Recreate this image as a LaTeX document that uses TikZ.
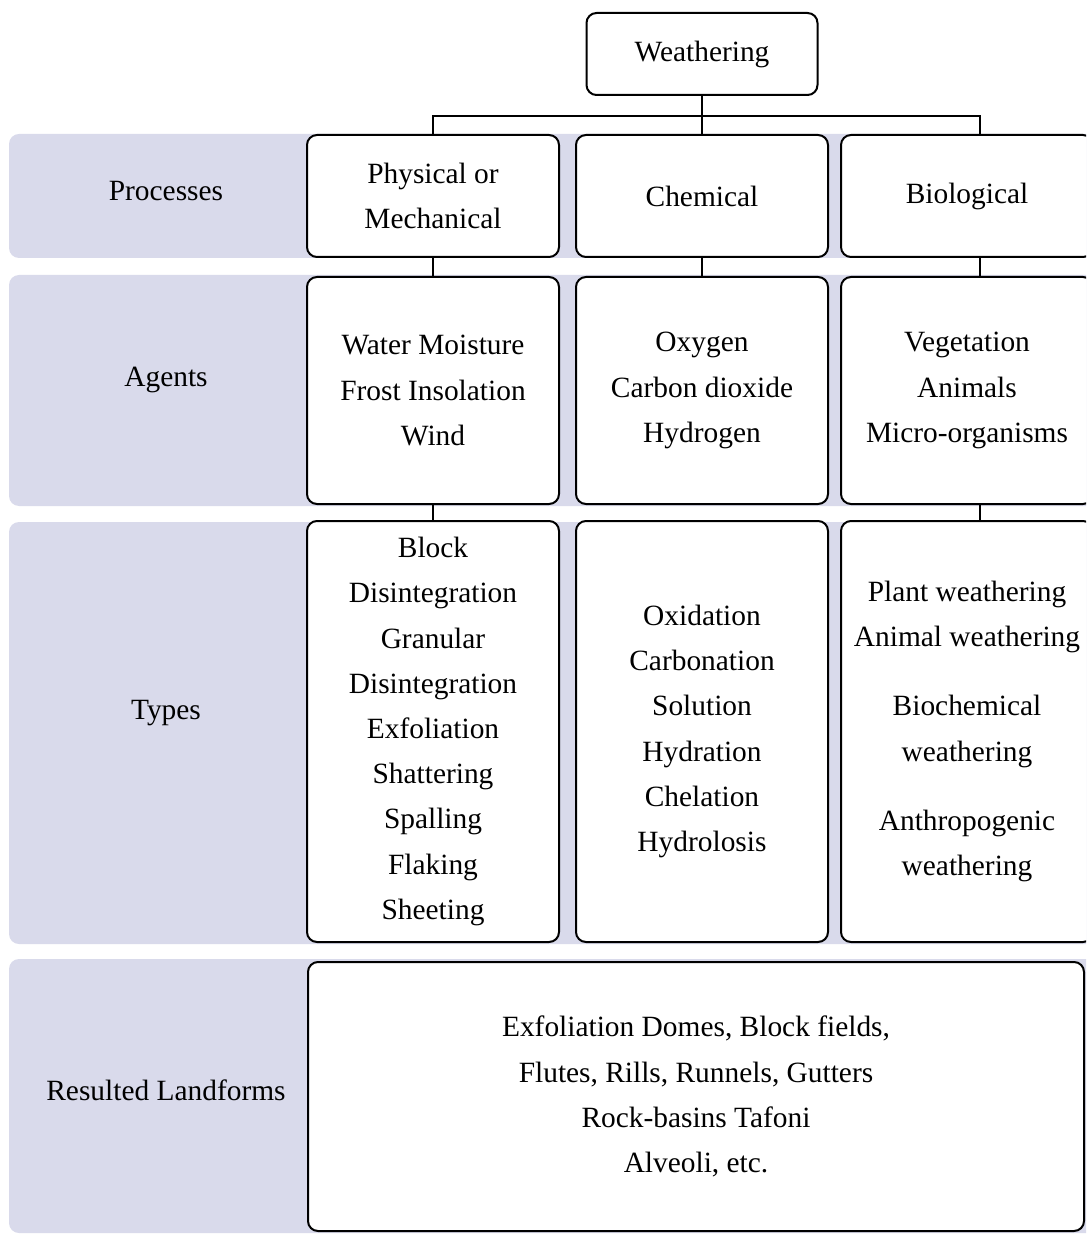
\documentclass[tikz,border=0pt]{standalone}
\usepackage{fontspec}
\setmainfont{Liberation Serif}
\definecolor{bandcol}{RGB}{217,218,235}
\tikzset{
  cellbox/.style={draw, line width=1pt, rounded corners=5pt, fill=white,
    align=center, inner sep=2pt, font=\fontsize{14.7}{22.6}\selectfont},
  rowlabel/.style={align=center, font=\fontsize{14.7}{22.6}\selectfont},
  bandfill/.style={fill=bandcol, rounded corners=5pt},
  link/.style={line width=0.8pt},
}
\begin{document}
\begin{tikzpicture}[x=0.5pt,y=-0.5pt]
    \clip (0,0) rectangle (1086,1234);
    % row backgrounds
    \fill[bandfill] (9,134) rectangle (1120,258);
    \fill[bandfill] (9,275) rectangle (1120,506);
    \fill[bandfill] (9,522) rectangle (1120,944);
    \fill[bandfill] (9,959) rectangle (1120,1233);
    % row labels
    \node[rowlabel] (lproc) at (166,191) {Processes};
    \node[rowlabel] (lagent) at (166,380) {Agents};
    \node[rowlabel] (ltype) at (166,713) {Types};
    \node[rowlabel] (lland) at (166,1090) {Resulted Landforms};
    % root
    \node[cellbox, minimum width=115.5pt, minimum height=41pt] (top) at (702,54) {Weathering};
    % processes
    \node[cellbox, minimum width=126pt, minimum height=61pt] (p1) at (433,196) {Physical or\\Mechanical};
    \node[cellbox, minimum width=126pt, minimum height=61pt] (p2) at (702,196) {Chemical};
    \node[cellbox, minimum width=126pt, minimum height=61pt] (p3) at (967,196) {Biological};
    % agents
    \node[cellbox, minimum width=126pt, minimum height=113.5pt] (a1) at (433,390.5)
        {Water Moisture\\Frost Insolation\\Wind};
    \node[cellbox, minimum width=126pt, minimum height=113.5pt] (a2) at (702,390.5)
        {Oxygen\\Carbon dioxide\\Hydrogen};
    \node[cellbox, minimum width=126pt, minimum height=113.5pt] (a3) at (967,390.5)
        {Vegetation\\Animals\\Micro-organisms};
    % types
    \node[cellbox, minimum width=126pt, minimum height=210.5pt] (t1) at (433,731.5)
        {Block\\Disintegration\\Granular\\Disintegration\\Exfoliation\\Shattering\\Spalling\\Flaking\\Sheeting};
    \node[cellbox, minimum width=126pt, minimum height=210.5pt] (t2) at (702,731.5)
        {Oxidation\\Carbonation\\Solution\\Hydration\\Chelation\\Hydrolosis};
    \node[cellbox, minimum width=126pt, minimum height=210.5pt] (t3) at (967,731.5)
        {Plant weathering\\Animal weathering\\[12pt]Biochemical\\weathering\\[12pt]Anthropogenic\\weathering};
    % landforms
    \node[cellbox, minimum width=388pt, minimum height=134.5pt] (land) at (696,1096.5)
        {Exfoliation Domes, Block fields,\\Flutes, Rills, Runnels, Gutters\\Rock-basins Tafoni\\Alveoli, etc.};
    % connectors
    \coordinate (fork) at (702,116);
    \draw[link] (top.south) -- (fork);
    \draw[link] (p1.north) |- (fork) -| ([xshift=6.5pt]p3.north);
    \draw[link] (fork) -- (p2.north);
    \draw[link] (p1.south) -- (a1.north);
    \draw[link] (p2.south) -- (a2.north);
    \draw[link] ([xshift=6.5pt]p3.south) -- ([xshift=6.5pt]a3.north);
    \draw[link] (a1.south) -- (t1.north);
    \draw[link] ([xshift=6.5pt]a3.south) -- ([xshift=6.5pt]t3.north);
\end{tikzpicture}
\end{document}
